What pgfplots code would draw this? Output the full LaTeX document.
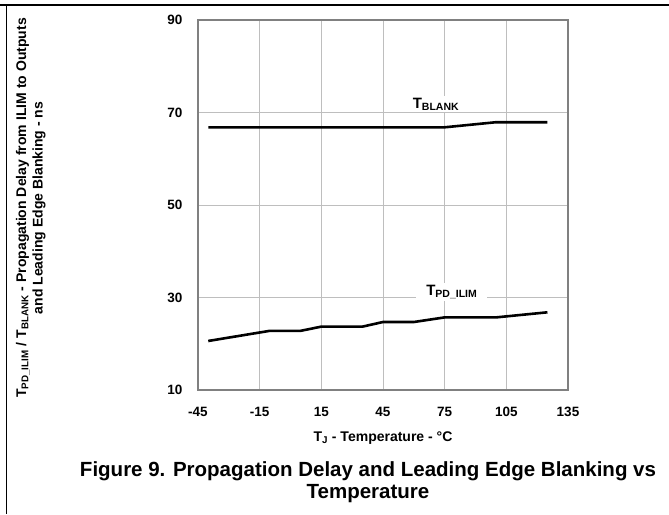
\documentclass[border=0pt]{standalone}
\usepackage{fontspec}
\setmainfont{Liberation Sans}
\usepackage{pgfplots}
\pgfplotsset{compat=1.18}

\definecolor{axisgray}{RGB}{128,128,128}
\definecolor{gridgray}{RGB}{190,190,190}

\begin{document}
\begin{tikzpicture}
% page = 669 x 514, origin at the plot's lower left corner
\useasboundingbox (-198pt,-124pt) rectangle (471pt,390pt);
\draw[line width=1.2pt] (-198pt,385pt) -- (471pt,385pt);
\draw[line width=1.2pt] (-191.5pt,385pt) -- (-191.5pt,-124pt);

\begin{axis}[
    at={(0,0)}, anchor=south west,
    scale only axis,
    width=370pt, height=370pt,
    xmin=-45, xmax=135,
    ymin=10, ymax=90,
    xtick={-45,-15,15,45,75,105,135},
    ytick={10,30,50,70,90},
    grid=major,
    major grid style={gridgray, line width=0.8pt},
    axis line style={axisgray, line width=1.6pt},
    major tick length=0pt,
    /pgf/number format/assume math mode=true,
    tick label style={font=\fontsize{13.5}{15}\selectfont\bfseries},
    yticklabel shift=12pt,
    xticklabel shift=14pt,
    xlabel={T\textsubscript{J} - Temperature - °C},
    xlabel style={font=\fontsize{14}{16}\selectfont\bfseries, at={(axis description cs:0.5,-0.13)}, anchor=center},
    ylabel={T\textsubscript{PD\_ILIM} / T\textsubscript{BLANK} - Propagation Delay from ILIM to Outputs\\and Leading Edge Blanking - ns},
    ylabel style={font=\fontsize{14}{16.5}\selectfont\bfseries, align=center, at={(axis description cs:-0.452,0.492)}, anchor=center},
]
\addplot[black, line width=2.6pt] coordinates {
    (-40,66.8) (75,66.8) (100,67.9) (125,67.9)};
\addplot[black, line width=2.6pt] coordinates {
    (-40,20.6) (-10,22.8) (5,22.8) (15,23.7) (35,23.7) (45,24.7) (60,24.7) (75,25.7) (100,25.7) (125,26.8)};
\node[fill=white, inner xsep=10pt, inner ysep=2pt, font=\fontsize{15}{17}\selectfont\bfseries] at (axis cs:70.8,71.8) {T\textsubscript{BLANK}};
\node[fill=white, inner xsep=10pt, inner ysep=2pt, font=\fontsize{15}{17}\selectfont\bfseries] at (axis cs:78.5,31.2) {T\textsubscript{PD\_ILIM}};
\end{axis}

\node[align=center, font=\fontsize{20.5}{22.5}\selectfont\bfseries] at (170pt,-92pt)
    {Figure 9. Propagation Delay and Leading Edge Blanking vs\\Temperature};
\end{tikzpicture}
\end{document}
